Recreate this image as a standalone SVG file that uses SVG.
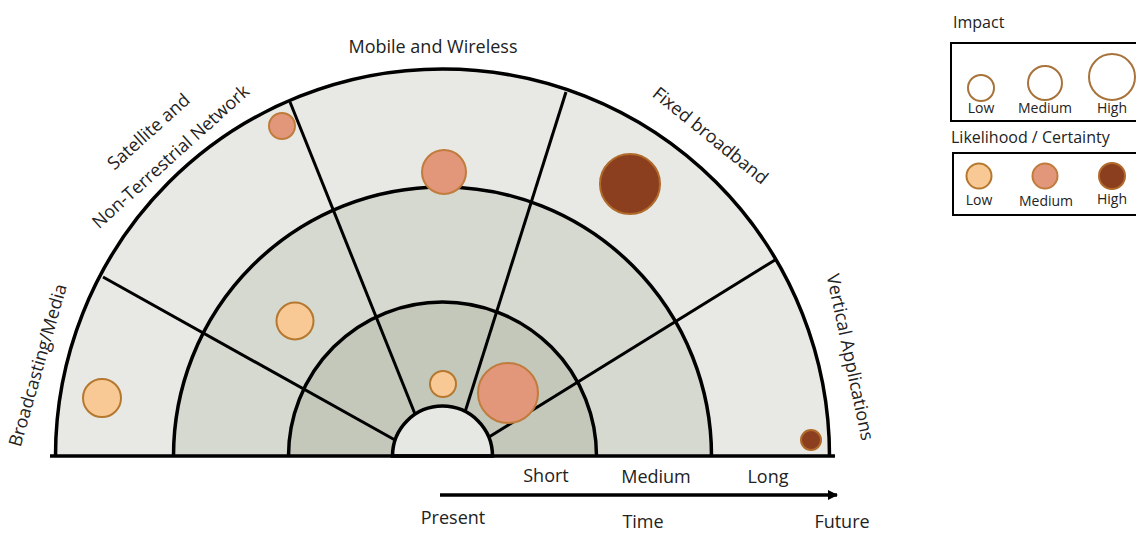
<svg xmlns="http://www.w3.org/2000/svg" width="1136" height="533" viewBox="0 0 1136 533">
<style>
text{font-family:"Open Sans","Noto Sans",sans-serif;fill:#222;}
.lbl{font-size:18px;}
.leg{font-size:14px;text-anchor:middle;}
.arc{fill:none;stroke:#000;stroke-width:3.5;}
.spoke{stroke:#000;stroke-width:3;fill:none;}
.low{fill:#f9c995;stroke:#b5782f;stroke-width:2;}
.med{fill:#e2967a;stroke:#c07c3c;stroke-width:2;}
.high{fill:#8b3f1f;stroke:#b06a2a;stroke-width:2;}
.imp{fill:#fff;stroke:#a8733a;stroke-width:2;}
.box{fill:#fff;stroke:#000;stroke-width:2;}
</style>
<defs>
<marker id="ah" markerWidth="10" markerHeight="10" refX="9" refY="5" orient="auto" markerUnits="userSpaceOnUse">
<path d="M0,0 L10,5 L0,10 Z" fill="#000"/>
</marker>
</defs>
<rect width="1136" height="533" fill="#fff"/>
<g id="rings">
<path d="M55.5,456 A387,387 0 0 1 829.5,456 Z" fill="#e8e9e5"/>
<path d="M173.5,456 A269,269 0 0 1 711.5,456 Z" fill="#d5d9d0"/>
<path d="M288.5,456 A154,154 0 0 1 596.5,456 Z" fill="#c3c8bb"/>
</g>
<g id="connectors">
<line class="spoke" x1="103" y1="277" x2="395" y2="440"/>
<line class="spoke" x1="290" y1="102" x2="415" y2="414"/>
<line class="spoke" x1="566" y1="92" x2="465" y2="412"/>
<line class="spoke" x1="775" y1="260" x2="489" y2="437"/>
</g>
<g id="arcs">
<path class="arc" d="M55.5,456 A387,387 0 0 1 829.5,456"/>
<path class="arc" d="M173.5,456 A269,269 0 0 1 711.5,456"/>
<path class="arc" d="M288.5,456 A154,154 0 0 1 596.5,456"/>
<path d="M392.5,456 A50,50 0 0 1 492.5,456 Z" fill="#e6e8e3" stroke="#000" stroke-width="3.5"/>
<line x1="50" y1="456" x2="835" y2="456" stroke="#000" stroke-width="3.5"/>
</g>
<g id="sector-labels">
<text class="lbl" transform="translate(37,365) rotate(-74)" text-anchor="middle" dominant-baseline="central">Broadcasting/Media</text>
<text class="lbl" transform="translate(148,131) rotate(-42)" text-anchor="middle" dominant-baseline="central">Satellite and</text>
<text class="lbl" transform="translate(170,156) rotate(-42)" text-anchor="middle" dominant-baseline="central">Non-Terrestrial Network</text>
<text class="lbl" x="433" y="53" text-anchor="middle">Mobile and Wireless</text>
<text class="lbl" transform="translate(711,135) rotate(39)" text-anchor="middle" dominant-baseline="central">Fixed broadband</text>
<text class="lbl" transform="translate(851,357) rotate(78)" text-anchor="middle" dominant-baseline="central">Vertical Applications</text>
</g>
<g id="bubbles">
<circle id="b-broadcast" class="low" cx="102" cy="398" r="19"/>
<circle id="b-satellite" class="med" cx="282" cy="126" r="13"/>
<circle id="b-mobile" class="med" cx="444" cy="172" r="22"/>
<circle id="b-fixed" class="high" cx="630" cy="184" r="30"/>
<circle id="b-mid" class="low" cx="295" cy="321" r="18.5"/>
<circle id="b-inner-small" class="low" cx="443" cy="384" r="13"/>
<circle id="b-inner-big" class="med" cx="508" cy="393" r="30"/>
<circle id="b-vertical" class="high" cx="811" cy="440" r="10"/>
</g>
<g id="time-axis">
<line x1="440" y1="495" x2="837" y2="495" stroke="#000" stroke-width="3.5" marker-end="url(#ah)"/>
<text class="lbl" x="546" y="482" text-anchor="middle">Short</text>
<text class="lbl" x="656" y="483" text-anchor="middle">Medium</text>
<text class="lbl" x="768" y="483" text-anchor="middle">Long</text>
<text class="lbl" x="453" y="524" text-anchor="middle">Present</text>
<text class="lbl" x="643" y="528" text-anchor="middle">Time</text>
<text class="lbl" x="842" y="528" text-anchor="middle">Future</text>
</g>
<g id="legend-impact">
<text x="953" y="28" font-size="16">Impact</text>
<rect class="box" x="951" y="43" width="195" height="78"/>
<circle class="imp" cx="981" cy="88" r="13"/>
<circle class="imp" cx="1045" cy="83" r="17"/>
<circle class="imp" cx="1112" cy="77" r="23"/>
<text class="leg" x="981" y="113">Low</text>
<text class="leg" x="1045" y="113">Medium</text>
<text class="leg" x="1112" y="113">High</text>
</g>
<g id="legend-likelihood">
<text x="951" y="143" font-size="16">Likelihood / Certainty</text>
<rect class="box" x="953" y="153" width="193" height="62"/>
<circle class="low" cx="979" cy="176" r="12.5"/>
<circle class="med" cx="1045" cy="176" r="12.5"/>
<circle class="high" cx="1112" cy="176" r="13"/>
<text class="leg" x="979" y="205">Low</text>
<text class="leg" x="1046" y="206">Medium</text>
<text class="leg" x="1112" y="204">High</text>
</g>
</svg>
